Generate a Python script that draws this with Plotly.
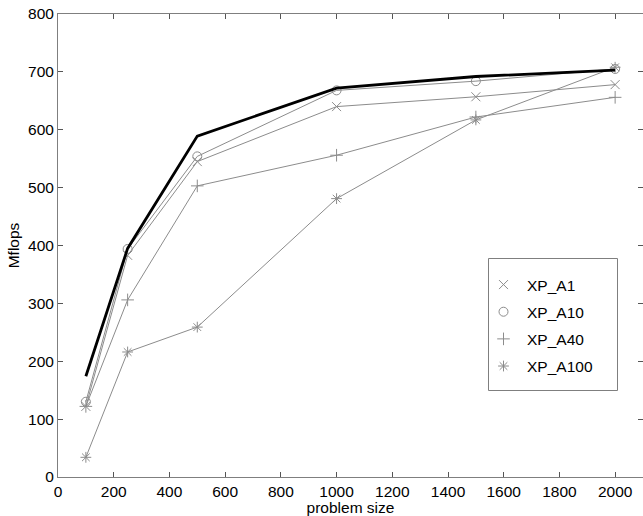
import plotly.graph_objects as go

sizes = [100, 250, 500, 1000, 1500, 2000]
peak = [174, 395, 589, 672, 692, 703]
xp_a1 = [122, 383, 545, 640, 657, 678]
xp_a10 = [130, 394, 554, 668, 684, 705]
xp_a40 = [122, 306, 503, 556, 622, 656]
xp_a100 = [34, 216, 259, 481, 617, 708]

names = ["XP_A1", "XP_A10", "XP_A40", "XP_A100"]
series = [xp_a1, xp_a10, xp_a40, xp_a100]
symbols = ["x-thin-open", "circle-open", "cross-thin-open", "asterisk-open"]

W, H = 643, 516
ML, MR, MT, MB = 58, 0, 14, 39
PW, PH = W - ML - MR, H - MT - MB

gray = "#8c8c8c"
fig = go.Figure()
for name, ys, sym in zip(names, series, symbols):
    fig.add_trace(go.Scatter(x=sizes, y=ys, mode="lines+markers", name=name,
                             line=dict(color=gray, width=1),
                             marker=dict(symbol=sym, size=9, color=gray,
                                         line=dict(color=gray, width=1)),
                             showlegend=False))
fig.add_trace(go.Scatter(x=sizes, y=peak, mode="lines", line=dict(color="black", width=2.8),
                         showlegend=False))
for name, sym in zip(names, symbols):
    fig.add_trace(go.Scatter(x=[None], y=[None], mode="markers", name=name, legendgroup=name,
                             marker=dict(symbol=sym, size=9, color=gray,
                                         line=dict(color=gray, width=1))))

fam = "Liberation Sans, Arial, sans-serif"
font = dict(family=fam, size=15.5, color="black")
axis_common = dict(showline=True, linecolor="#7f7f7f", linewidth=1, mirror="ticks",
                   ticks="inside", ticklen=5, tickcolor="#555", showgrid=False,
                   zeroline=False, tickfont=font)

def px_x(p):
    return (p - ML) / PW

def px_y(p):
    return (H - MB - p) / PH

fig.add_shape(type="rect", xref="paper", yref="paper",
              x0=px_x(488.5), x1=px_x(617.5), y0=px_y(390.5), y1=px_y(258.5),
              line=dict(color="#7f7f7f", width=1), fillcolor="white", layer="above")

fig.update_layout(
    width=W, height=H, plot_bgcolor="white", paper_bgcolor="white",
    margin=dict(l=ML, r=MR, t=MT, b=MB),
    font=font,
    xaxis=dict(range=[0, 2100], tickvals=list(range(0, 2001, 200)),
               title=dict(text="problem size", font=font, standoff=2), **axis_common),
    yaxis=dict(range=[0, 800], tickvals=list(range(0, 801, 100)),
               title=dict(text="Mflops", font=font, standoff=4), **axis_common),
    legend=dict(x=px_x(480), y=px_y(268), xanchor="left", yanchor="top",
                borderwidth=0, bgcolor="rgba(0,0,0,0)",
                font=font, itemwidth=37, traceorder="grouped", tracegroupgap=4),
)
fig.write_html("out.html")
